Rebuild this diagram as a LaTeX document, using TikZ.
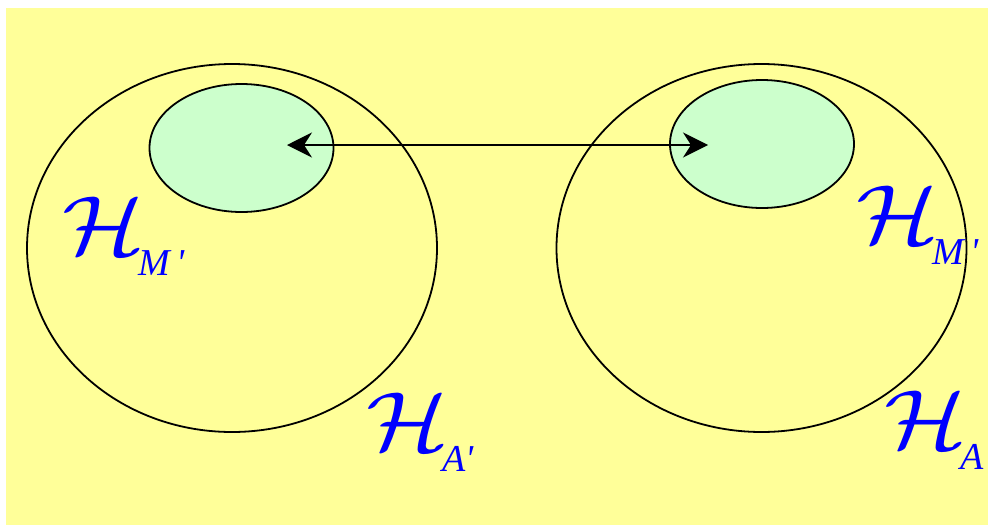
\RequirePackage{fix-cm}
\documentclass[tikz,border=0pt]{standalone}
\definecolor{bgyellow}{RGB}{255,255,153}
\definecolor{subgreen}{RGB}{204,255,204}
\definecolor{lblblue}{RGB}{0,0,255}
\usepackage{amsmath,amssymb}
\usepackage{fontspec}
\setmainfont{Liberation Serif}
\usepackage{tikz}
\usetikzlibrary{arrows.meta,positioning,shapes.geometric}

\newcommand{\Hsub}[1]{\scalebox{1.15}[1]{$\mathcal{H}$}\kern-6pt\raisebox{-21pt}{\fontsize{38}{42}\selectfont\textit{#1}}}

\begin{document}
\begin{tikzpicture}[
  x=1pt, y=-1pt,
  bigset/.style={ellipse, draw, line width=1.8pt, inner sep=0pt, minimum width=410pt, minimum height=368pt},
  subset/.style={ellipse, draw, line width=1.8pt, fill=subgreen, inner sep=0pt, minimum width=184pt, minimum height=128pt},
  arrow/.style={{Stealth[length=25pt,width=25pt,inset=8pt]}-{Stealth[length=25pt,width=25pt,inset=8pt]}, line width=1.4pt},
  label/.style={font=\fontsize{84}{88}\selectfont, text=lblblue, inner sep=0pt, anchor=north west},
]

% Background
\useasboundingbox (0,0) rectangle (988,525);
\fill[bgyellow] (6,8) rectangle (988,525);

% Left set
\node[bigset] (bigL) at (232,248) {};
\node[subset] (subL) at (241.5,148) {};

% Right set
\node[bigset] (bigR) at (761.5,248) {};
\node[subset] (subR) at (762,144) {};

% Correspondence
\coordinate (endL) at (287,145);
\coordinate (endR) at (708,145);
\draw[arrow] (endL) -- (endR);

% Labels
\node[label] (lblML) at (62,197) {\Hsub{M\,\textquotesingle}};
\node[label] (lblAL) at (366,393) {\Hsub{A\textquotesingle}};
\node[label] (lblMR) at (856,186) {\Hsub{M\,\textquotesingle}};
\node[label] (lblAR) at (884,391) {\Hsub{A}};

\end{tikzpicture}
\end{document}
